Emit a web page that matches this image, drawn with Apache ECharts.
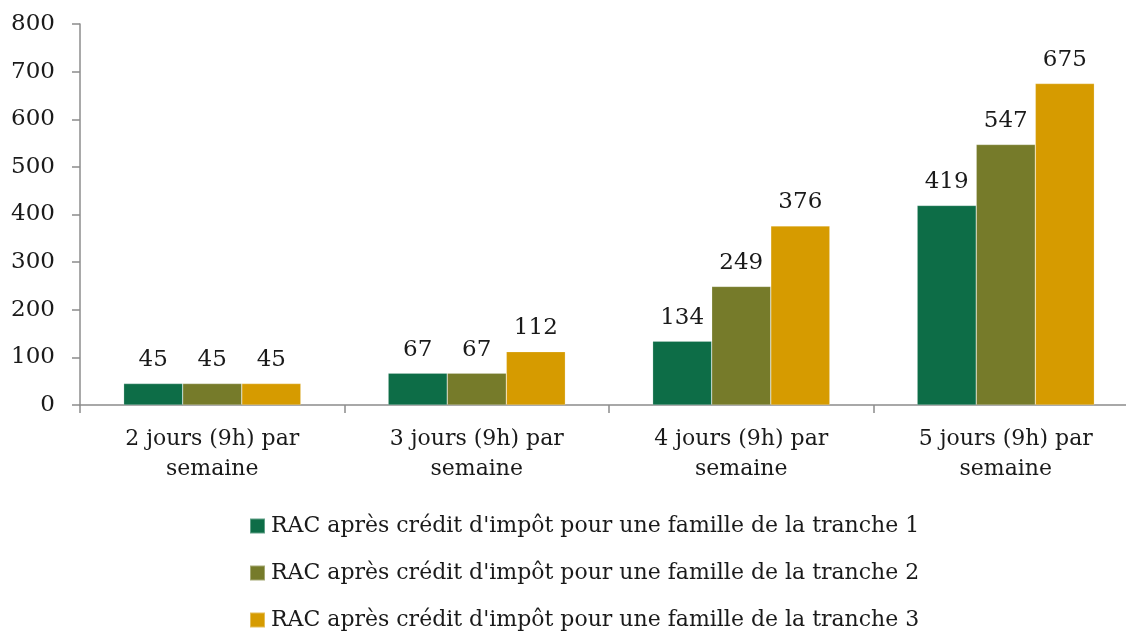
<!DOCTYPE html>
<html>
<head>
<meta charset="utf-8">
<script src="https://cdn.jsdelivr.net/npm/echarts@6/dist/echarts.min.js"></script>
<style>
  html, body { margin: 0; padding: 0; background: #fff; overflow: hidden; }
  #wrap { width: 1126px; height: 632px; overflow: hidden; }
  #chart { width: 1138px; height: 632px; }
</style>
</head>
<body>
<div id="wrap"><div id="chart"></div></div>
<script>
// Reste à charge (RAC) by number of days of childcare per week
const categories = [
  '2 jours (9h) par\nsemaine',
  '3 jours (9h) par\nsemaine',
  '4 jours (9h) par\nsemaine',
  '5 jours (9h) par\nsemaine'
];
const seriesNames = [
  "RAC après crédit d'impôt pour une famille de la tranche 1",
  "RAC après crédit d'impôt pour une famille de la tranche 2",
  "RAC après crédit d'impôt pour une famille de la tranche 3"
];
const tranche1 = [45, 67, 134, 419];
const tranche2 = [45, 67, 249, 547];
const tranche3 = [45, 112, 376, 675];
const yTicks = { min: 0, max: 800, interval: 100 };

const colors = ['#0d6d47', '#767b2a', '#d69b00'];
const fontSerif = 'DejaVu Serif, Liberation Serif, serif';
const axisGray = '#8c8c8c';
const textColor = '#1a1a1a';

function barSeries(name, data, color) {
  return {
    name: name,
    type: 'bar',
    data: data,
    barGap: '0%',
    barCategoryGap: '33%',
    itemStyle: { color: color, borderColor: 'rgba(255,255,255,0.35)', borderWidth: 0.6 },
    label: {
      show: true,
      position: 'top',
      distance: 12,
      color: textColor,
      fontFamily: fontSerif,
      fontSize: 23
    }
  };
}

// one legend block per series, stacked below the plot
function legendRow(name, top) {
  return {
    orient: 'vertical',
    left: 244,
    top: top,
    itemWidth: 15,
    itemHeight: 15,
    icon: 'rect',
    textStyle: { fontFamily: fontSerif, fontSize: 22, color: textColor, padding: [0, 0, 0, 1] },
    data: [name]
  };
}

const chart = echarts.init(document.getElementById('chart'), null, { renderer: 'canvas' });
chart.setOption({
  backgroundColor: '#fff',
  animation: false,
  color: colors,
  grid: { left: 80, top: 24, right: 0, bottom: 227, containLabel: false },
  legend: [
    legendRow(seriesNames[0], 510),
    legendRow(seriesNames[1], 557),
    legendRow(seriesNames[2], 604)
  ],
  xAxis: {
    type: 'category',
    data: categories,
    axisLine: { lineStyle: { color: axisGray, width: 1.5 } },
    axisTick: { show: true, length: 8, interval: 0, lineStyle: { color: axisGray, width: 1.5 } },
    axisLabel: {
      interval: 0,
      margin: 19,
      color: textColor,
      fontFamily: fontSerif,
      fontSize: 22,
      lineHeight: 30
    }
  },
  yAxis: {
    type: 'value',
    min: yTicks.min,
    max: yTicks.max,
    interval: yTicks.interval,
    splitLine: { show: false },
    axisLine: { show: true, lineStyle: { color: axisGray, width: 1.5 } },
    axisTick: { show: true, length: 8, lineStyle: { color: axisGray, width: 1.5 } },
    axisLabel: {
      margin: 25,
      color: textColor,
      fontFamily: fontSerif,
      fontSize: 23
    }
  },
  series: [
    barSeries(seriesNames[0], tranche1, colors[0]),
    barSeries(seriesNames[1], tranche2, colors[1]),
    barSeries(seriesNames[2], tranche3, colors[2])
  ]
});
</script>
</body>
</html>
